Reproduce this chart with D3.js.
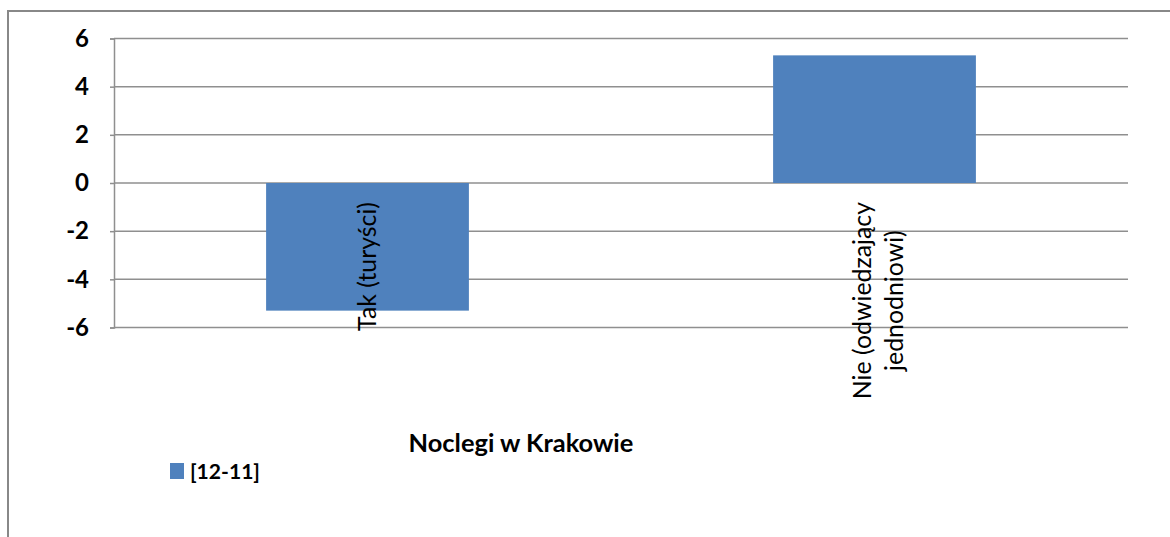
<!DOCTYPE html>
<html>
<head>
<meta charset="utf-8">
<script src="https://cdn.jsdelivr.net/npm/d3@7/dist/d3.min.js"></script>
<style>
  html, body { margin: 0; padding: 0; background: #fff; }
  svg { display: block; }
  text { font-family: Lato, "Liberation Sans", Arial, sans-serif; }
</style>
</head>
<body>
<svg id="chart" width="1170" height="537"></svg>
<script>
// ---- data ----
const categories = ["Tak (turyści)", "Nie (odwiedzający jednodniowi)"];
const categoryLines = [["Tak (turyści)"], ["Nie (odwiedzający", "jednodniowi)"]];
const seriesName = "[12-11]";
const seriesValues = [-5.3, 5.3];
const yTicks = [-6, -4, -2, 0, 2, 4, 6];
const chartTitle = "Noclegi w Krakowie";

// ---- layout ----
const W = 1170, H = 537;
const plot = { left: 114, right: 1128, top: 38.5, bottom: 327.5 };
const barColor = "#4f81bd";
const gridColor = "#8f8f8f";
const FONT = 'Lato, "Liberation Sans", Arial, sans-serif';

const svg = d3.select("#chart");

// outer chart border (only top & left visible in frame)
svg.append("rect")
  .attr("x", 8).attr("y", 11)
  .attr("width", W + 20).attr("height", H + 20)
  .attr("fill", "#fff").attr("stroke", "#888").attr("stroke-width", 2);

const y = d3.scaleLinear().domain([-6, 6]).range([plot.bottom, plot.top]);
const x = d3.scaleBand().domain(categories).range([plot.left, plot.right])
  .paddingInner(0.6).paddingOuter(0.3);

// gridlines
svg.append("g").selectAll("line").data(yTicks).join("line")
  .attr("x1", plot.left).attr("x2", plot.right)
  .attr("y1", d => y(d)).attr("y2", d => y(d))
  .attr("stroke", gridColor).attr("stroke-width", 1.5);

// y axis
const yAxis = svg.append("g")
  .attr("transform", `translate(${plot.left},0)`)
  .call(d3.axisLeft(y).tickValues(yTicks).tickSize(4).tickPadding(21).tickFormat(d3.format("d")));
yAxis.select(".domain").attr("stroke", gridColor).attr("stroke-width", 1.5);
yAxis.selectAll(".tick line").attr("stroke", gridColor).attr("stroke-width", 1.5);
yAxis.selectAll(".tick text")
  .attr("fill", "#000")
  .style("font-family", FONT)
  .style("font-size", "24px").style("font-weight", "bold")
  .text(d => d < 0 ? "-" + Math.abs(d) : d);

// bars
svg.append("g").selectAll("rect").data(seriesValues).join("rect")
  .attr("x", (d, i) => x(categories[i]))
  .attr("width", x.bandwidth())
  .attr("y", d => y(Math.max(0, d)))
  .attr("height", d => Math.abs(y(d) - y(0)))
  .attr("fill", barColor);

// helper to fit font size to a target width
function fitSize(str, target, weight) {
  const t = svg.append("text").style("font-size", "100px").style("font-weight", weight).text(str);
  const w = t.node().getComputedTextLength();
  t.remove();
  return 100 * target / w;
}

// category labels (rotated)
const catSize = fitSize("Tak (turyści)", 129, "normal");
const lineH = 32;
const labelEndY = 202;
const catG = svg.append("g");
categoryLines.forEach((lines, i) => {
  const cx = x(categories[i]) + x.bandwidth() / 2;
  const g = catG.append("g").attr("transform", `translate(${cx},${labelEndY}) rotate(-90)`);
  const texts = lines.map((ln, j) => g.append("text")
    .style("font-size", catSize + "px").attr("fill", "#000")
    .attr("text-anchor", "middle")
    .attr("y", 0.35 * catSize + (j - (lines.length - 1) / 2) * lineH + (lines.length > 1 ? 4 : 0))
    .text(ln));
  const maxW = d3.max(texts, t => t.node().getComputedTextLength());
  texts.forEach(t => t.attr("x", -maxW / 2));
});

// title
const titleSize = fitSize(chartTitle, 225, "bold");
svg.append("text")
  .attr("x", 521).attr("y", 452)
  .attr("text-anchor", "middle")
  .style("font-size", titleSize + "px").style("font-weight", "bold")
  .attr("fill", "#000")
  .text(chartTitle);

// legend
const legend = svg.append("g");
legend.append("rect").attr("x", 170).attr("y", 463).attr("width", 14).attr("height", 16).attr("fill", barColor);
const legSize = fitSize(seriesName, 70, "bold");
legend.append("text")
  .attr("x", 190).attr("y", 479)
  .style("font-size", legSize + "px").style("font-weight", "bold")
  .attr("fill", "#000")
  .text(seriesName);
</script>
</body>
</html>
